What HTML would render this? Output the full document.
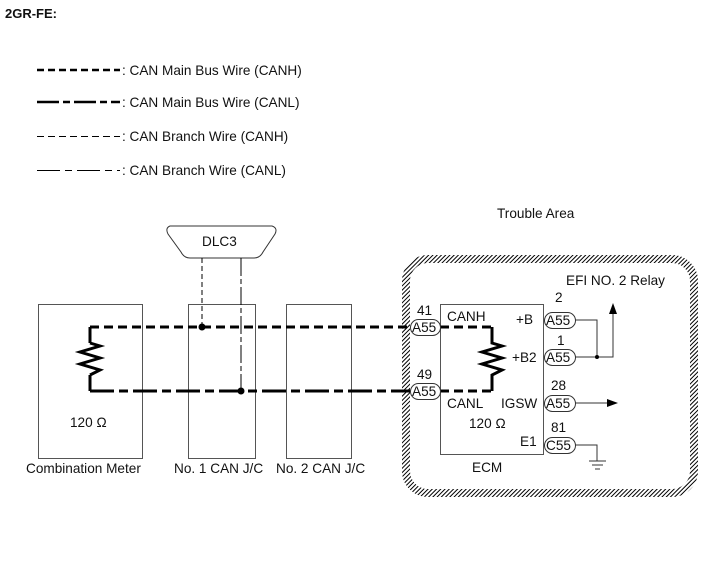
<!DOCTYPE html>
<html><head><style>
body{margin:0;background:#fff;}
svg{display:block;font-family:"Liberation Sans",sans-serif;}
text{font-size:13.6px;fill:#111;}
</style></head><body>
<svg width="713" height="581" viewBox="0 0 713 581" xmlns="http://www.w3.org/2000/svg">
<defs>
<pattern id="h" width="3" height="3" patternUnits="userSpaceOnUse" patternTransform="rotate(45)">
<rect width="3" height="3" fill="#fff"/><line x1="0" y1="0" x2="0" y2="3" stroke="#000" stroke-width="2"/>
</pattern>
</defs>
<text x="5" y="18" style="font-weight:bold;font-size:13px">2GR-FE:</text>
<g stroke="#000">
<line x1="37" y1="70" x2="120" y2="70" stroke-width="2.6" stroke-dasharray="7,4"/>
<line x1="37" y1="102" x2="120" y2="102" stroke-width="2.6" stroke-dasharray="22,4,7,4"/>
<line x1="37" y1="136.5" x2="120" y2="136.5" stroke-width="1" stroke-dasharray="7,4"/>
<line x1="37" y1="170.5" x2="120" y2="170.5" stroke-width="1" stroke-dasharray="23,5,7,5"/>
</g>
<text x="122" y="75">: CAN Main Bus Wire (CANH)</text>
<text x="122" y="107">: CAN Main Bus Wire (CANL)</text>
<text x="122" y="141">: CAN Branch Wire (CANH)</text>
<text x="122" y="175">: CAN Branch Wire (CANL)</text>
<text x="497" y="218">Trouble Area</text>
<rect x="406" y="259" width="288" height="234" rx="22" fill="none" stroke="url(#h)" stroke-width="8"/>
<text x="566" y="285">EFI NO. 2 Relay</text>
<g fill="none" stroke="#555" stroke-width="1">
<rect x="38.5" y="304.5" width="104" height="154"/>
<rect x="188.5" y="304.5" width="67" height="154"/>
<rect x="286.5" y="304.5" width="65" height="154"/>
<rect x="440.5" y="304.5" width="103" height="150"/>
</g>
<text x="26" y="473">Combination Meter</text>
<text x="174" y="473">No. 1 CAN J/C</text>
<text x="276" y="473">No. 2 CAN J/C</text>
<text x="70" y="427">120 Ω</text>
<text x="472" y="472">ECM</text>
<path d="M170,226 L272,226 Q278,228 275,234 L263,252 Q260,258 254,258 L190,258 Q184,258 181,252 L168,234 Q165,228 170,226 Z" fill="#fff" stroke="#333"/>
<text x="202" y="246">DLC3</text>
<line x1="202" y1="258" x2="202" y2="327" stroke="#000" stroke-dasharray="5,3"/>
<line x1="241" y1="258" x2="241" y2="391" stroke="#000" stroke-dasharray="18,3,5,3"/>
<g fill="none" stroke="#000" stroke-width="3">
<polyline points="90,327 90,343"/><polyline points="90,375 90,391"/>
<polyline points="90,343 100,346 80,352 100,358 80,364 100,370 90,375"/>
<line x1="90" y1="327" x2="410" y2="327" stroke-dasharray="9,5"/>
<line x1="90" y1="391" x2="410" y2="391" stroke-dasharray="24,5,9,5"/>
<line x1="440" y1="327" x2="492" y2="327" stroke-dasharray="9,5"/>
<line x1="440" y1="391" x2="492" y2="391" stroke-dasharray="9,5"/>
<polyline points="492,327 492,343 502,346 482,352 502,358 482,364 502,370 492,375 492,391"/>
</g>
<circle cx="202" cy="327" r="3.5"/><circle cx="241" cy="391" r="3.5"/>
<g fill="#fff" stroke="#333">
<rect x="410.5" y="319.5" width="30" height="16" rx="8"/>
<rect x="410.5" y="383.5" width="30" height="16" rx="8"/>
<rect x="544.5" y="312.5" width="31" height="16" rx="8"/>
<rect x="544.5" y="349.5" width="31" height="16" rx="8"/>
<rect x="544.5" y="395.5" width="31" height="16" rx="8"/>
<rect x="544.5" y="437.5" width="31" height="16" rx="8"/>
</g>
<g style="font-size:13px">
<text x="412" y="332">A55</text><text x="412" y="396">A55</text>
<text x="546" y="325">A55</text><text x="546" y="362">A55</text>
<text x="546" y="408">A55</text><text x="546" y="450">C55</text>
</g>
<text x="417" y="315">41</text><text x="417" y="379">49</text>
<text x="555" y="302">2</text><text x="557" y="345">1</text>
<text x="551" y="390">28</text><text x="551" y="432">81</text>
<text x="447" y="321">CANH</text><text x="447" y="408">CANL</text>
<text x="469" y="428">120 Ω</text>
<text x="516" y="324">+B</text><text x="512" y="362">+B2</text>
<text x="501" y="408">IGSW</text><text x="520" y="446">E1</text>
<g fill="none" stroke="#333" stroke-width="1">
<polyline points="575,320 597,320 597,357"/>
<polyline points="575,357 613,357 613,312"/>
<line x1="575" y1="403" x2="608" y2="403"/>
<polyline points="575,445 597,445 597,461"/>
<line x1="589" y1="461" x2="606" y2="461"/>
<line x1="592" y1="465" x2="603" y2="465"/>
<line x1="595" y1="469" x2="600" y2="469"/>
</g>
<circle cx="597" cy="357" r="2"/>
<polygon points="613,303 609,314 617,314"/>
<polygon points="618,403 607,399 607,407"/>
</svg>
</body></html>
